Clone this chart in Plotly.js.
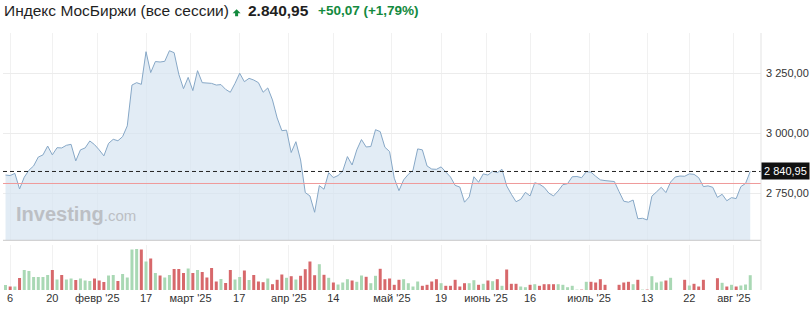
<!DOCTYPE html>
<html>
<head>
<meta charset="utf-8">
<script src="https://cdn.plot.ly/plotly-3.0.1.min.js"></script>
<style>
html,body{margin:0;padding:0;background:#fff;}
#chart{width:812px;height:312px;}
</style>
</head>
<body>
<div id="chart"></div>
<script>
// ---- Data ----
var sessionIndex = [];           // one entry per trading session, Jan 3 2025 .. Aug 8 2025
var price = [
  2826,2824,2833,2768,2817,2846,2864,2901,2910,2947,
  2910,2940,2939,2950,2954,2885,2931,2939,2968,2953,
  2931,2906,2958,2975,2969,2986,3031,3201,3211,3204,
  3340,3253,3299,3297,3300,3344,3336,3246,3186,3233,
  3178,3261,3211,3210,3208,3201,3203,3183,3171,3208,
  3250,3215,3229,3222,3211,3171,3189,3139,3064,3011,
  3013,2920,2965,2889,2753,2739,2671,2782,2767,2836,
  2815,2824,2843,2903,2868,2931,2974,2943,2945,3015,
  3007,2942,2924,2813,2761,2806,2829,2846,2935,2931,
  2864,2851,2850,2860,2838,2818,2783,2776,2713,2735,
  2819,2796,2831,2826,2842,2836,2850,2781,2746,2715,
  2725,2754,2739,2794,2788,2775,2751,2739,2760,2786,
  2790,2819,2820,2815,2840,2838,2821,2806,2803,2801,
  2799,2757,2717,2713,2722,2644,2646,2639,2738,2756,
  2775,2753,2797,2818,2822,2821,2831,2829,2815,2778,
  2781,2775,2733,2746,2719,2732,2728,2778,2790.88,2840.95
];
var volume = [
  5,3.5,3.5,12,20,19,13,13,13,15,
  20,10.5,15,10.5,11.5,10,11.5,9.5,9,11.5,
  9.5,8,14.5,15,9,16,12.5,40.5,41,40.5,
  28.5,31.5,17,14.5,12.5,15,21,21,17,21.5,
  17,20,18,12.5,22,8.5,11,7,20,10.5,
  13,19.5,10,15,8.5,7.8,11.5,5.8,10.2,15.5,
  12.2,13.8,10.5,14.2,20.8,28.5,14.8,25.8,15.2,12.2,
  7.5,5.5,7.5,10.8,9.5,8.2,14.5,13.2,6.8,14.2,
  21.2,10.8,11.5,5.2,10.2,10.8,6.8,3.5,8.5,4.2,
  5.2,8.5,10.8,6.8,4.2,4.2,10.2,3.5,6.8,6.8,
  9.8,5.2,6.2,9.5,8.8,10.8,4.2,20.5,6.2,6.2,
  3.5,2.8,5.2,5.8,4.2,5.8,5.8,5.8,5.8,5.2,
  2.8,4.2,0.4,0.4,8.2,8.2,7.5,10.8,5.2,0,
  0,5.2,7.5,8.2,5.8,10.2,0.4,0.4,13.8,7.5,
  8.5,9.5,12.2,0,0,10.2,4.5,6.2,3.5,10.2,
  0,0,11.8,7.2,3.5,5.2,3.5,4.5,5.5,14.8
];
var tickIndex = [1, 10, 19.6, 30, 39.5, 49.9, 60.5, 70, 82.5, 93, 102.6, 112, 124.6, 137, 146, 155.5];
var tickLabels = ["6", "20", "февр '25", "17", "март '25", "17", "апр '25", "14", "май '25", "19", "июнь '25", "16", "июль '25", "13", "22", "авг '25"];
var priceTicks = [2750, 3000, 3250];
var lastValue = 2840.95;
var prevClose = 2790.88;
var changeAbs = "+50,07";
var changePct = "(+1,79%)";
var titleText = "Индекс МосБиржи (все сессии)";
var lastText = "2.840,95";
var lastAxisText = "2 840,95";

for (var i = 0; i < price.length; i++) sessionIndex.push(i);

var volColors = volume.map(function (v, i) {
  var up = (i === 0) || price[i] >= price[i - 1];
  return up ? "#a9d8b4" : "#d7686b";
});

// ---- layout helpers (plot area: x 3..761 px, y 33..290 px) ----
var L = 3, W = 758, T = 33, H = 257;
var xRange = [-0.534, 161.3];
function pX(px) { return (px - L) / W; }
function pY(py) { return (T + H - py) / H; }

var font = "Liberation Sans, Arial, Helvetica, sans-serif";
var green = "#138a3e";

// small filled "up" arrow icon next to the title
var arrowPath = "M " + pX(236.6) + " " + pY(9.3) +
  " L " + pX(240.6) + " " + pY(13.2) +
  " L " + pX(238.1) + " " + pY(13.2) +
  " L " + pX(238.1) + " " + pY(16.3) +
  " L " + pX(235.1) + " " + pY(16.3) +
  " L " + pX(235.1) + " " + pY(13.2) +
  " L " + pX(232.6) + " " + pY(13.2) + " Z";

var traces = [
  {
    x: sessionIndex, y: price, type: "scatter", mode: "lines",
    line: {color: "#86a7c6", width: 1},
    fill: "tozeroy", fillcolor: "rgba(214,228,241,0.7)",
    xaxis: "x", yaxis: "y", hoverinfo: "skip"
  },
  {
    // previous close reference line, drawn on top of the area
    x: xRange, y: [prevClose, prevClose], type: "scatter", mode: "lines",
    line: {color: "#ef9a9a", width: 1},
    xaxis: "x", yaxis: "y", hoverinfo: "skip", cliponaxis: true
  },
  {
    x: sessionIndex, y: volume, type: "bar",
    marker: {color: volColors, line: {width: 0}},
    xaxis: "x", yaxis: "y2", hoverinfo: "skip"
  }
];

var layout = {
  width: 812, height: 312,
  margin: {l: L, r: 812 - L - W, t: T, b: 312 - T - H, pad: 0},
  paper_bgcolor: "#ffffff", plot_bgcolor: "#ffffff",
  showlegend: false,
  separators: ", ",
  bargap: 0.36,
  font: {family: font, size: 11, color: "#333333"},
  xaxis: {
    range: xRange,
    tickvals: tickIndex, ticktext: tickLabels,
    showgrid: true, gridcolor: "#f1f1f1", gridwidth: 1,
    zeroline: false, showline: false, ticks: "",
    anchor: "y2",
    tickfont: {family: font, size: 11, color: "#333333"},
    fixedrange: true
  },
  yaxis: {
    domain: [pY(240.3), 1],
    range: [2554.2, 3417.9],
    side: "right", anchor: "x",
    tickvals: priceTicks, tickformat: ",.2f",
    showgrid: true, gridcolor: "#ececec", gridwidth: 1,
    zeroline: false, showline: false, ticks: "",
    ticklabelstandoff: 4,
    tickfont: {family: font, size: 11, color: "#333333"},
    fixedrange: true
  },
  yaxis2: {
    domain: [0, pY(245)],
    range: [0, 45],
    anchor: "x",
    showgrid: false, zeroline: false, showline: false,
    showticklabels: false, ticks: "",
    fixedrange: true
  },
  shapes: [
    // last value dashed line
    {type: "line", xref: "paper", x0: 0, x1: 1, yref: "y", y0: lastValue, y1: lastValue,
     line: {color: "#222222", width: 1, dash: "4px,3px"}},
    // bottom border of price pane
    {type: "line", xref: "paper", x0: 0, x1: 1, yref: "y domain", y0: 0, y1: 0,
     line: {color: "#c9c9c9", width: 1}},
    // right axis line
    {type: "line", xref: "paper", x0: 1, x1: 1, yref: "paper", y0: 0, y1: 1,
     line: {color: "#e3e3e3", width: 1}},
    // title arrow icon
    {type: "path", xref: "paper", yref: "paper", path: arrowPath,
     fillcolor: green, line: {width: 0}}
  ],
  annotations: [
    {xref: "paper", yref: "y", x: 1, y: lastValue, xanchor: "left", yanchor: "middle",
     text: lastAxisText, showarrow: false, bgcolor: "#111111", borderpad: 2,
     font: {family: font, size: 11, color: "#ffffff"}},
    {xref: "paper", yref: "paper", x: pX(14), y: pY(214), xanchor: "left", yanchor: "middle",
     text: "<b>Investing</b><span style='font-size:15px'>.com</span>", showarrow: false,
     font: {family: font, size: 20, color: "#bcbfc4"}},
    {xref: "paper", yref: "paper", x: pX(2), y: pY(10.5), xanchor: "left", yanchor: "middle",
     text: titleText, showarrow: false,
     font: {family: font, size: 15.5, color: "#1f1f1f"}},
    {xref: "paper", yref: "paper", x: pX(246), y: pY(10.5), xanchor: "left", yanchor: "middle",
     text: "<b>" + lastText + "</b>", showarrow: false,
     font: {family: font, size: 15.5, color: "#1f1f1f"}},
    {xref: "paper", yref: "paper", x: pX(316), y: pY(10.5), xanchor: "left", yanchor: "middle",
     text: "<b>" + changeAbs + " " + changePct + "</b>", showarrow: false,
     font: {family: font, size: 13.5, color: green}}
  ]
};

Plotly.newPlot("chart", traces, layout, {displayModeBar: false, staticPlot: true});
</script>
</body>
</html>
